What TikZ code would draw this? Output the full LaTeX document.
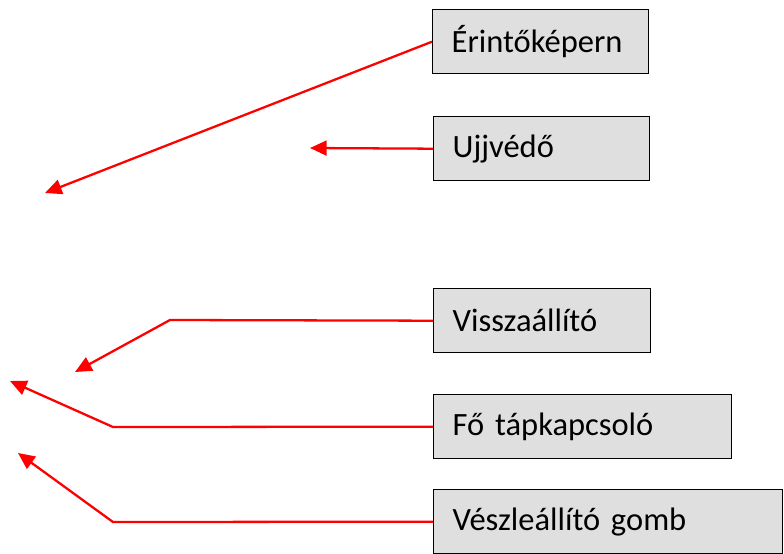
\documentclass[tikz,border=0pt]{standalone}
\usepackage{fontspec}
\setmainfont{Carlito}
\usetikzlibrary{positioning,arrows.meta}
\tikzset{partbox/.style={draw=black, line width=0.8pt, fill=gray!25, anchor=north west,
    minimum height=1.28cm, inner xsep=0.38cm, align=left,
    font=\fontsize{18.5}{22}\selectfont},
  pointer/.style={draw=red, line width=1.3pt, -{Triangle[length=9.5pt,width=8.5pt]}}}

\begin{document}
\begin{tikzpicture}[x=0.02cm,y=-0.02cm]
    \useasboundingbox (0,0) rectangle (784,554);
    % Boxes on the right
    \node[partbox, text width=3.56cm] (screen) at (432,9) {Érintőképern};
    \node[partbox, text width=3.56cm] (guard) at (433,116) {Ujjvédő};
    \node[partbox, text width=3.58cm] (reset) at (433,288) {Visszaállító};
    \node[partbox, text width=5.2cm] (power) at (433,394) {Fő tápkapcsoló};
    \node[partbox, text width=6.22cm] (estop) at (433,489) {Vészleállító gomb};
    % Arrow ends and bends
    \coordinate (screentip) at (45,193);
    \coordinate (guardtip) at (310,148);
    \coordinate (resetbend) at (170,320);
    \coordinate (resettip) at (75,372);
    \coordinate (powerbend) at (113,427);
    \coordinate (powertip) at (10,381);
    \coordinate (estopbend) at (113,522);
    \coordinate (estoptip) at (18,453);
    % Pointers
    \draw[pointer] (screen.west) -- (screentip);
    \draw[pointer] (guard.west) -- (guardtip);
    \draw[pointer] (reset.west) -- (resetbend) -- (resettip);
    \draw[pointer] (power.west) -- (powerbend) -- (powertip);
    \draw[pointer] (estop.west) -- (estopbend) -- (estoptip);
\end{tikzpicture}
\end{document}
